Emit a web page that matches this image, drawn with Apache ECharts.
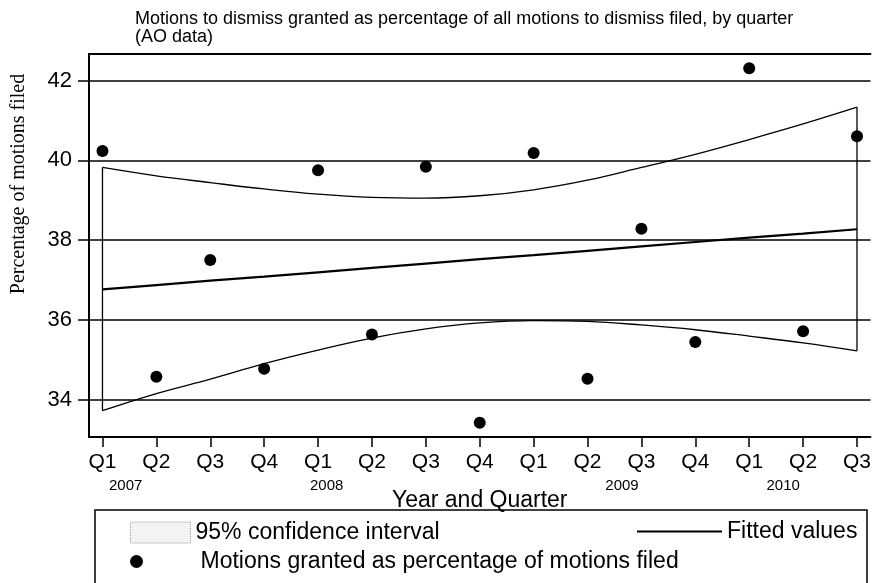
<!DOCTYPE html>
<html>
<head>
<meta charset="utf-8">
<title>Motions to dismiss granted</title>
<script src="https://cdn.jsdelivr.net/npm/echarts@6/dist/echarts.min.js"></script>
<style>
  html, body { margin: 0; padding: 0; background: #fff; }
  #main { width: 874px; height: 583px; }
</style>
</head>
<body>
<div id="main"></div>
<script>
// 横轴：季度
var quarterLabels = ['Q1', 'Q2', 'Q3', 'Q4', 'Q1', 'Q2', 'Q3', 'Q4', 'Q1', 'Q2', 'Q3', 'Q4', 'Q1', 'Q2', 'Q3'];
var yearLabels = ['2007', '2008', '2009', '2010'];
var yTickValues = [34, 36, 38, 40, 42];

// 数据
var motionsPct = [40.23, 34.57, 37.50, 34.77, 39.75, 35.63, 39.84, 33.42, 40.18, 34.52, 38.28, 35.44, 42.31, 35.71, 40.60];
var fittedValues = [36.76, 36.87, 36.98, 37.08, 37.19, 37.30, 37.41, 37.52, 37.62, 37.73, 37.84, 37.95, 38.06, 38.16, 38.27];
var ciUpper = [39.82, 39.61, 39.44, 39.28, 39.15, 39.07, 39.05, 39.11, 39.26, 39.50, 39.82, 40.15, 40.52, 40.91, 41.33];
var ciLower = [33.72, 34.15, 34.51, 34.90, 35.24, 35.54, 35.77, 35.92, 35.98, 35.96, 35.87, 35.75, 35.59, 35.42, 35.22];

// 年份标签在横轴上的位置（原图中不规则）
var yearLabelAt = [0.43, 4.16, 9.64, 12.63];

var sans = 'Liberation Sans, Arial, sans-serif';
var CI_NAME = '95% confidence interval';
var FIT_NAME = 'Fitted values';
var DOT_NAME = 'Motions granted as percentage of motions filed';

var quarterIdx = quarterLabels.map(function (q, i) { return i; });
function pairs(vals) {
  return vals.map(function (v, i) { return [i, v]; });
}
var last = quarterLabels.length - 1;

var myChart = echarts.init(document.getElementById('main'));

var option = {
  backgroundColor: '#fff',
  animation: false,
  grid: { left: 89, top: 54, width: 786, height: 383 },
  graphic: [
    {
      type: 'text', left: 135, top: 10,
      style: {
        text: 'Motions to dismiss granted as percentage of all motions to dismiss filed, by quarter\n(AO data)',
        font: '18px ' + sans, fill: '#000', lineHeight: 18
      }
    },
    {
      type: 'text', x: 19, y: 184, rotation: Math.PI / 2,
      style: {
        text: 'Percentage of motions filed',
        font: '20px Liberation Serif, Times New Roman, serif', fill: '#000',
        align: 'center', verticalAlign: 'middle'
      }
    },
    {
      type: 'rect', shape: { x: 95, y: 510, width: 772, height: 90 },
      style: { fill: 'none', stroke: '#000', lineWidth: 1.5 }
    }
  ],
  legend: [
    {
      data: [{ name: CI_NAME, icon: 'rect',
        itemStyle: { color: '#f3f3f3', borderColor: '#999', borderWidth: 1, borderType: 'dotted' } }],
      left: 130, top: 521, padding: 0, itemWidth: 60, itemHeight: 21,
      selectedMode: false,
      textStyle: { fontFamily: sans, fontSize: 23, color: '#000' }
    },
    {
      data: [{ name: FIT_NAME, icon: 'path://M0 0 H85 V2 H0 Z', itemStyle: { color: '#000', opacity: 1 } }],
      left: 637, top: 520, padding: 0, itemWidth: 85, itemHeight: 2,
      selectedMode: false,
      textStyle: { fontFamily: sans, fontSize: 23, color: '#000' }
    },
    {
      data: [{ name: DOT_NAME, icon: 'circle', itemStyle: { color: '#000', opacity: 1 } }],
      left: 130, top: 550, padding: 0, itemWidth: 36, itemHeight: 13,
      selectedMode: false,
      textStyle: { fontFamily: sans, fontSize: 23, color: '#000', padding: [0, 0, 0, 41] }
    }
  ],
  xAxis: [
    {
      type: 'value', min: -0.25, max: 14.25,
      name: 'Year and Quarter', nameLocation: 'middle', nameGap: 52,
      nameTextStyle: { fontFamily: sans, fontSize: 23, color: '#000' },
      axisLine: { show: true, onZero: false, lineStyle: { color: '#000', width: 2 } },
      axisTick: { show: true, length: 10, customValues: quarterIdx, lineStyle: { color: '#000', width: 1.5 } },
      axisLabel: {
        customValues: quarterIdx, margin: 15,
        fontFamily: sans, fontSize: 21, color: '#000',
        formatter: function (v) { return quarterLabels[Math.round(v)]; }
      },
      splitLine: { show: false }
    },
    {
      type: 'value', min: -0.25, max: 14.25, position: 'bottom',
      axisLine: { show: false }, axisTick: { show: false }, splitLine: { show: false },
      axisLabel: {
        customValues: yearLabelAt, margin: 41,
        fontFamily: sans, fontSize: 15, color: '#000',
        formatter: function (v) { return yearLabels[yearLabelAt.indexOf(v)]; }
      }
    },
    {
      type: 'value', min: -0.25, max: 14.25, position: 'top',
      axisLine: { show: true, onZero: false, lineStyle: { color: '#000', width: 2 } },
      axisTick: { show: false }, axisLabel: { show: false }, splitLine: { show: false }
    }
  ],
  yAxis: {
    type: 'value', min: 33.06, max: 42.665,
    axisLine: { show: true, onZero: false, lineStyle: { color: '#000', width: 2 } },
    axisTick: { show: true, length: 11, customValues: yTickValues, lineStyle: { color: '#000', width: 1.5 } },
    axisLabel: { customValues: yTickValues, margin: 17, fontFamily: sans, fontSize: 22, color: '#000' },
    splitLine: { show: false }
  },
  series: [
    {
      name: CI_NAME, type: 'line', data: pairs(ciUpper), smooth: 0.4,
      symbol: 'none', lineStyle: { color: '#000', width: 1.3 }, itemStyle: { color: '#000' }, z: 3
    },
    {
      name: CI_NAME, type: 'line', data: pairs(ciLower), smooth: 0.4,
      symbol: 'none', lineStyle: { color: '#000', width: 1.3 }, itemStyle: { color: '#000' }, z: 3
    },
    {
      name: CI_NAME, type: 'line', data: [[0, ciLower[0]], [0, ciUpper[0]]],
      symbol: 'none', lineStyle: { color: '#000', width: 1.3 }, z: 3
    },
    {
      name: CI_NAME, type: 'line', data: [[last, ciLower[last]], [last, ciUpper[last]]],
      symbol: 'none', lineStyle: { color: '#000', width: 1.3 }, z: 3
    },
    {
      name: FIT_NAME, type: 'line', data: pairs(fittedValues),
      symbol: 'none', lineStyle: { color: '#000', width: 2.2 }, itemStyle: { color: '#000' }, z: 4
    },
    {
      name: DOT_NAME, type: 'scatter', data: pairs(motionsPct),
      symbol: 'circle', symbolSize: 12, itemStyle: { color: '#000', opacity: 1 }, z: 5,
      markLine: {
        silent: true, symbol: 'none', label: { show: false },
        lineStyle: { color: '#000', width: 1.6, type: 'solid' },
        data: yTickValues.map(function (v) { return { yAxis: v }; })
      }
    }
  ]
};

myChart.setOption(option);
</script>
</body>
</html>
